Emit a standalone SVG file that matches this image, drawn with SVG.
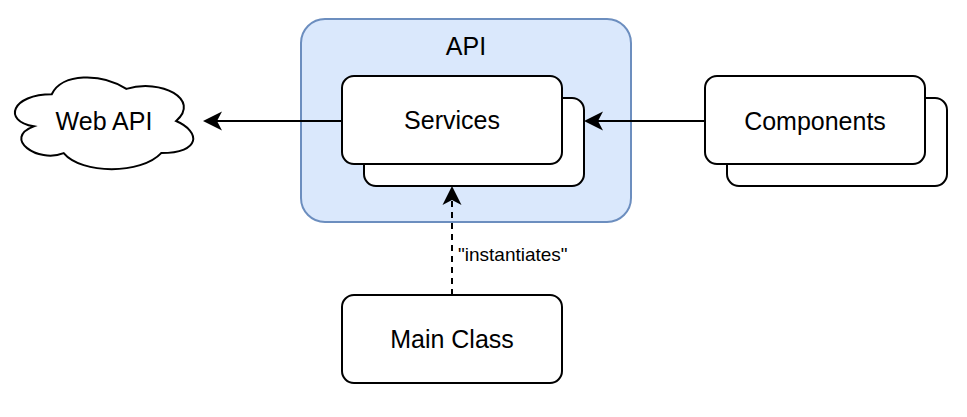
<svg xmlns="http://www.w3.org/2000/svg" width="967" height="417" viewBox="0 0 967 417">
<style>
.box{fill:#ffffff;stroke:#000000;stroke-width:2}
.cont{fill:#dae8fc;stroke:#6c8ebf;stroke-width:2}
.lbl{font-family:"Liberation Sans",Arial,sans-serif;font-size:25px;fill:#000000;text-anchor:middle}
.small{font-family:"Liberation Sans",Arial,sans-serif;font-size:19px;fill:#000000}
.edge{fill:none;stroke:#000000;stroke-width:2}
.dash{stroke-dasharray:6 5}
</style>
<defs>
<marker id="arr" viewBox="-20 -11 21 22" refX="-14" refY="0" markerWidth="21" markerHeight="22" markerUnits="userSpaceOnUse" orient="auto">
<path d="M0,0 L-19,-9.5 L-14,0 L-19,9.5 Z" fill="#000000" stroke="none"/>
</marker>
</defs>
<g id="api">
<rect class="cont" x="301" y="19" width="330" height="203" rx="24" ry="24"/>
<text class="lbl" x="466" y="55">API</text>
</g>
<g id="services">
<rect class="box" x="364" y="98" width="220" height="88" rx="12" ry="12"/>
<rect class="box" x="342" y="76" width="220" height="88" rx="12" ry="12"/>
<text class="lbl" x="452" y="129">Services</text>
</g>
<g id="components">
<rect class="box" x="727" y="98" width="220" height="88" rx="12" ry="12"/>
<rect class="box" x="705" y="76" width="220" height="88" rx="12" ry="12"/>
<text class="lbl" x="815" y="130">Components</text>
</g>
<g id="mainclass">
<rect class="box" x="342" y="295" width="220" height="88" rx="12" ry="12"/>
<text class="lbl" x="452" y="348">Main Class</text>
</g>
<g id="webapi">
<path class="box" d="M51.75,94.25 C11.95,94.25 2,121 33.84,126.35 C2,138.12 37.82,163.8 63.69,153.1 C81.6,174.5 141.3,174.5 161.2,153.1 C201,153.1 201,131.7 176.125,121 C201,99.6 161.2,78.2 126.375,88.9 C101.5,72.85 61.7,72.85 51.75,94.25 Z"/>
<text class="lbl" x="104" y="130">Web API</text>
</g>
<g id="connectors">
<line class="edge" x1="342" y1="121" x2="217" y2="121" marker-end="url(#arr)"/>
<line class="edge" x1="705" y1="121" x2="598" y2="121" marker-end="url(#arr)"/>
<line class="edge dash" x1="452" y1="295" x2="452" y2="200" marker-end="url(#arr)"/>
<text class="small" x="458" y="261">"instantiates"</text>
</g>
</svg>
